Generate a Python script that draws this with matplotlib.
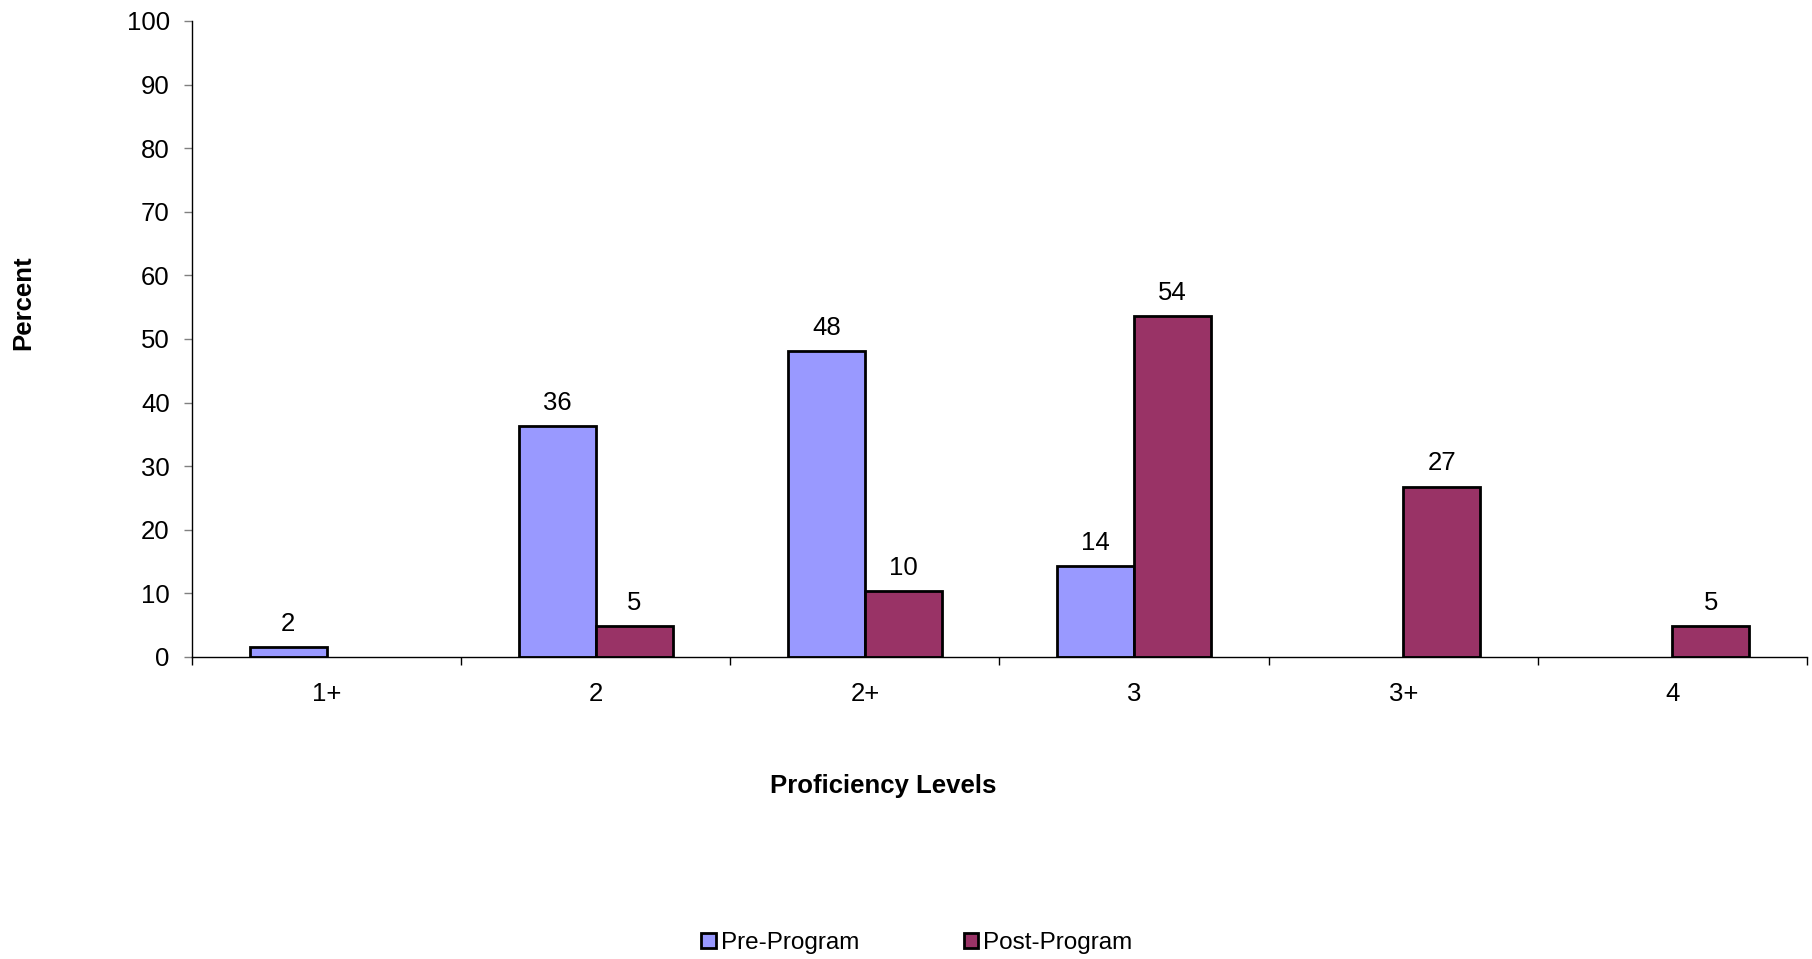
import numpy as np
import matplotlib
matplotlib.use('Agg')
import matplotlib.pyplot as plt
from matplotlib.patches import Patch

# proficiency levels and percent of participants
levels = ['1+', '2', '2+', '3', '3+', '4']
pre_program = [1.6, 36.3, 48.1, 14.3, 0, 0]
post_program = [0, 4.8, 10.3, 53.6, 26.8, 4.8]

plt.rcParams['font.family'] = ['Liberation Sans', 'DejaVu Sans']
fs = 18.5

fig = plt.figure(figsize=(18.12, 9.59), dpi=100)
ax = fig.add_axes([192 / 1812, 1 - 657 / 959, (1807 - 192) / 1812, (657 - 21) / 959])

x = np.arange(len(levels))
w = 0.286
# zero values are not drawn at all
pre_h = [v if v > 0 else np.nan for v in pre_program]
post_h = [v if v > 0 else np.nan for v in post_program]
bars_pre = ax.bar(x - w / 2, pre_h, w, color='#9999FF', edgecolor='black', linewidth=2)
bars_post = ax.bar(x + w / 2, post_h, w, color='#993366', edgecolor='black', linewidth=2)

ax.bar_label(bars_pre, labels=['%.0f' % v if v > 0 else '' for v in pre_program],
             padding=8, fontsize=fs)
ax.bar_label(bars_post, labels=['%.0f' % v if v > 0 else '' for v in post_program],
             padding=8, fontsize=fs)

ax.set_xlim(-0.5, len(levels) - 0.5)
ax.set_ylim(0, 100)
ax.set_yticks(np.arange(0, 101, 10))
ax.set_xticks(x)
ax.set_xticklabels(levels)
ax.set_xticks(np.arange(-0.5, len(levels)), minor=True)
ax.tick_params(axis='x', which='major', length=0, pad=18, labelsize=fs)
ax.tick_params(axis='x', which='minor', length=6, width=1, direction='out')
ax.tick_params(axis='y', length=6, width=1, color='#808080', pad=10, labelsize=fs)

ax.spines['top'].set_visible(False)
ax.spines['right'].set_visible(False)
ax.spines['left'].set_linewidth(1)
ax.spines['bottom'].set_linewidth(1)

fig.text(23 / 1812, 1 - 303 / 959, 'Percent', rotation=90, ha='center', va='center',
         fontsize=fs, fontweight='bold')
fig.text(883 / 1812, 1 - 786 / 959, 'Proficiency Levels', ha='center', va='center',
         fontsize=fs, fontweight='bold')

handles = [Patch(facecolor='#9999FF', edgecolor='black', linewidth=2, label='Pre-Program'),
           Patch(facecolor='#993366', edgecolor='black', linewidth=2, label='Post-Program')]
fig.legend(handles=handles, loc='center', bbox_to_anchor=(917 / 1812, 1 - 943 / 959), ncol=2,
           frameon=False, fontsize=17.5, handlelength=0.6, handleheight=0.6,
           handletextpad=0.2, columnspacing=4.3)

fig.savefig('out.png', dpi=100)
